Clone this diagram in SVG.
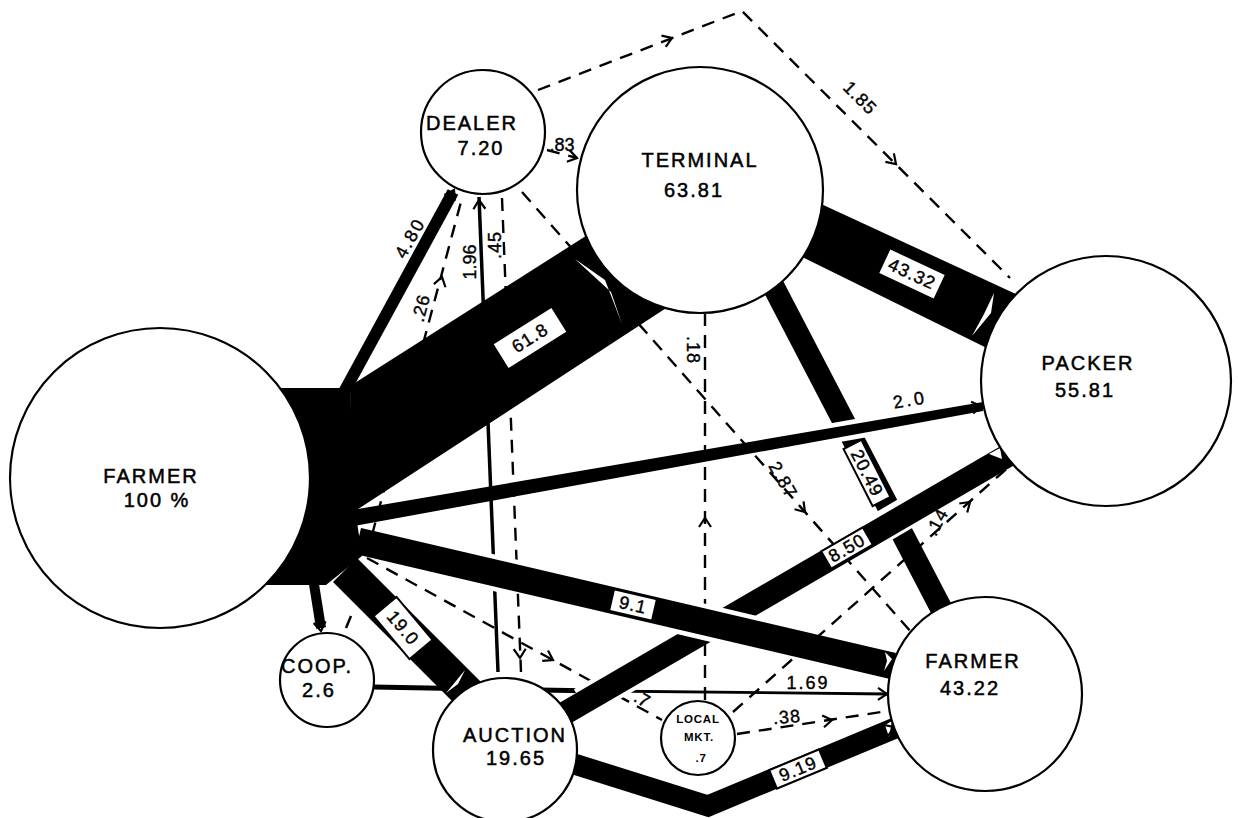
<svg xmlns="http://www.w3.org/2000/svg" xmlns:xlink="http://www.w3.org/1999/xlink" width="1238" height="818" viewBox="0 0 1238 818">
<style>
.dash{fill:none;stroke:#000;stroke-width:2.4;stroke-dasharray:13 9}
.solid{fill:none;stroke:#000}
.band{fill:#000}
.halo{fill:none;stroke:#fff}
.sliver{fill:#fff}
.node circle{fill:#fff;stroke:#000;stroke-width:2.2}
.nl{font-family:"Liberation Sans",Arial,sans-serif;font-size:20px;text-anchor:middle;letter-spacing:2px;fill:#000;stroke:#000;stroke-width:0.5}
.sm{font-family:"Liberation Sans",Arial,sans-serif;text-anchor:middle;fill:#000;font-size:11.5px;font-weight:bold;letter-spacing:0.8px}
.lbl{font-family:"Liberation Sans",Arial,sans-serif;font-size:18px;text-anchor:middle;dominant-baseline:central;fill:#000;stroke:#000;stroke-width:0.4}
.bx rect{fill:#fff;stroke:#000;stroke-width:2}
.bx text{font-family:"Liberation Sans",Arial,sans-serif;font-size:18px;text-anchor:middle;dominant-baseline:central;letter-spacing:1px;fill:#000;stroke:#000;stroke-width:0.4}
</style>
<defs>
<path id="chev" d="M-9,-6 L0,0 L-9,6" fill="none" stroke="#000" stroke-width="2.2"/>
</defs>
<rect width="1238" height="818" fill="#fff"/>
<g id="connectors">
  <path class="dash" d="M538,90 L742,11 L1010,278"/>
  <path class="dash" d="M547,150 L577,158"/>
  <path class="dash" d="M372,535 L462,198"/>
  <path class="dash" d="M502,198 L521,672"/>
  <path class="dash" d="M522,192 L912,633"/>
  <path class="dash" d="M705,700 L705,314"/>
  <path class="dash" d="M367,558 L662,720"/>
  <path class="dash" d="M733,712 L1012,464"/>
  <path class="dash" d="M737,734 L888,711"/>
  <path class="solid" stroke-width="3.5" d="M498,672 L479,197"/>
  <path class="solid" stroke-width="5" d="M373,687 L600,691"/>
  <path class="solid" stroke-width="2.8" d="M600,691 L887,694"/>
  <path class="solid" stroke-width="2.5" d="M346,628 L351,616"/>
  <polygon class="band" points="780,275 952,605 932,615 760,285"/>
  <polygon class="band" points="806,197 1031,301 1001,355 788,250"/>
  <polygon class="band" points="350,386 600,227 680,299 352,513"/>
  <line x1="344" y1="392" x2="453" y2="192" stroke="#000" stroke-width="12"/>
  <polygon class="band" points="357,558 482,683 458,707 333,582"/>
  <line x1="313" y1="578" x2="321" y2="628" stroke="#000" stroke-width="10"/>
  <polyline points="555,758 708,806 900,726" fill="none" stroke="#000" stroke-width="21" stroke-linejoin="miter"/>
  <line class="halo" x1="820" y1="435.3" x2="875" y2="425.6" stroke-width="20"/>
  <polygon class="band" points="352,510 983,402 983,411 354,526"/>
  <line class="halo" x1="870" y1="534.3" x2="925" y2="502" stroke-width="32"/>
  <line class="halo" x1="582" y1="703" x2="628" y2="676" stroke-width="32"/>
  <polygon class="band" points="554,706 1006,443 1018,463 566,726"/>
  <line class="halo" x1="680" y1="616.3" x2="752" y2="633.2" stroke-width="36"/>
  <line class="halo" x1="478" y1="569" x2="516" y2="578" stroke-width="36"/>
  <polygon class="band" points="361,528 896,653 890,679 355,554"/>
  <polygon class="band" points="262,388 350,388 356,515 362,556 326,585 262,585"/>
  <polygon class="sliver" points="575,259 605,280 622,324 611,292"/>
  <polygon class="sliver" points="994,293 991,313 972,336 984,314"/>
  <polygon class="sliver" points="885,652 892,659 884,671 887,661"/>
  <polygon class="sliver" points="465,670 458,684 446,693 456,681"/>
  <polygon class="sliver" points="989,454 1000,448 1002,459"/>
  <polygon class="sliver" points="885,725 892,721 889,737"/>
  <g class="bx" transform="translate(530,338) rotate(-32)"><rect x="-35" y="-15" width="70" height="30"/><text x="0" y="0" font-size="23">61.8</text></g>
  <g class="bx" transform="translate(912,274) rotate(25)"><rect x="-31" y="-14" width="62" height="28"/><text x="0" y="0">43.32</text></g>
  <g class="bx" transform="translate(867,473) rotate(63)"><rect x="-32" y="-10" width="64" height="20"/><text x="0" y="0">20.49</text></g>
  <g class="bx" transform="translate(847,548) rotate(-30)"><rect x="-24" y="-10" width="48" height="20"/><text x="0" y="0">8.50</text></g>
  <g class="bx" transform="translate(633,605) rotate(13)"><rect x="-22" y="-11" width="44" height="22"/><text x="0" y="0">9.1</text></g>
  <g class="bx" transform="translate(403,628) rotate(50)"><rect x="-28" y="-15" width="56" height="30"/><text x="0" y="0" font-size="21">19.0</text></g>
  <g class="bx" transform="translate(798,769) rotate(-22.6)"><rect x="-27" y="-10" width="54" height="20"/><text x="0" y="0">9.19</text></g>
  <use href="#chev" transform="translate(672,38) rotate(-21)"/>
  <use href="#chev" transform="translate(896,164) rotate(45)"/>
  <use href="#chev" transform="translate(442,277) rotate(-75)"/>
  <use href="#chev" transform="translate(520,658) rotate(88)"/>
  <use href="#chev" transform="translate(805,512) rotate(48.5)"/>
  <use href="#chev" transform="translate(705,518) rotate(-90)"/>
  <use href="#chev" transform="translate(553,660) rotate(28.8)"/>
  <use href="#chev" transform="translate(970,502) rotate(-41.6)"/>
  <use href="#chev" transform="translate(832,720) rotate(-8.7)"/>
  <use href="#chev" transform="translate(577,158) rotate(13)"/>
  <use href="#chev" transform="translate(479,200) rotate(-92.4)"/>
  <use href="#chev" transform="translate(454,190) rotate(-60.6)"/>
  <use href="#chev" transform="translate(321,631) rotate(81)"/>
  <use href="#chev" transform="translate(981,406) rotate(-10)"/>
  <use href="#chev" transform="translate(887,694) rotate(0.6)"/>
  <use href="#chev" transform="translate(894,727) rotate(-22.6)"/>
  <text class="lbl" letter-spacing="2" transform="translate(410,238) rotate(-60.6)">4.80</text>
  <text class="lbl" letter-spacing="1" transform="translate(421,308) rotate(-75)">.26</text>
  <text class="lbl" transform="translate(470,262) rotate(-90)">1.96</text>
  <text class="lbl" letter-spacing="1" transform="translate(495,245) rotate(-90)">.45</text>
  <text class="lbl" font-size="15" transform="translate(562,145)">.83</text>
  <text class="lbl" letter-spacing="1" transform="translate(860,98) rotate(45)">1.85</text>
  <text class="lbl" letter-spacing="1" transform="translate(783,480) rotate(60)">2.87</text>
  <text class="lbl" letter-spacing="1" transform="translate(693,350) rotate(90)">.18</text>
  <text class="lbl" font-size="19" letter-spacing="3" transform="translate(910,400) rotate(-10)">2.0</text>
  <text class="lbl" letter-spacing="1" transform="translate(937,522) rotate(-62)">.14</text>
  <text class="lbl" font-size="16" transform="translate(642,699) rotate(30)">.7</text>
  <text class="lbl" letter-spacing="1" transform="translate(787,717) rotate(-5)">.38</text>
  <text class="lbl" letter-spacing="2" transform="translate(808,683)">1.69</text>
</g>
<g id="farmer" class="node"><circle cx="160" cy="478" r="150"/><text class="nl" x="151" y="483" font-size="21">FARMER</text><text class="nl" x="157" y="507">100 %</text></g>
<g id="dealer" class="node"><circle cx="483" cy="132" r="62"/><text class="nl" x="472" y="130" font-size="19">DEALER</text><text class="nl" x="481" y="155" font-size="19">7.20</text></g>
<g id="terminal" class="node"><circle cx="700" cy="190" r="123"/><text class="nl" x="700" y="167" font-size="19">TERMINAL</text><text class="nl" x="694" y="197" font-size="19" letter-spacing="3">63.81</text></g>
<g id="packer" class="node"><circle cx="1106" cy="381" r="125"/><text class="nl" x="1088" y="370" font-size="19">PACKER</text><text class="nl" x="1085" y="397" font-size="19" letter-spacing="3">55.81</text></g>
<g id="farmer2" class="node"><circle cx="985" cy="694" r="97"/><text class="nl" x="973" y="668" font-size="19">FARMER</text><text class="nl" x="970" y="695" font-size="19" letter-spacing="3">43.22</text></g>
<g id="auction" class="node"><circle cx="505" cy="750" r="72"/><text class="nl" x="515" y="742" font-size="19">AUCTION</text><text class="nl" x="516" y="765" font-size="19">19.65</text></g>
<g id="coop" class="node"><circle cx="327" cy="680" r="47"/><text class="nl" x="317" y="673" font-size="17">COOP.</text><text class="nl" x="319" y="697" font-size="18" letter-spacing="3">2.6</text></g>
<g id="localmkt" class="node"><circle cx="698" cy="738" r="37"/><text class="sm" x="698" y="723">LOCAL</text><text class="sm" x="699" y="741">MKT.</text><text class="sm" x="701" y="762" font-size="13">.7</text></g>
</svg>
